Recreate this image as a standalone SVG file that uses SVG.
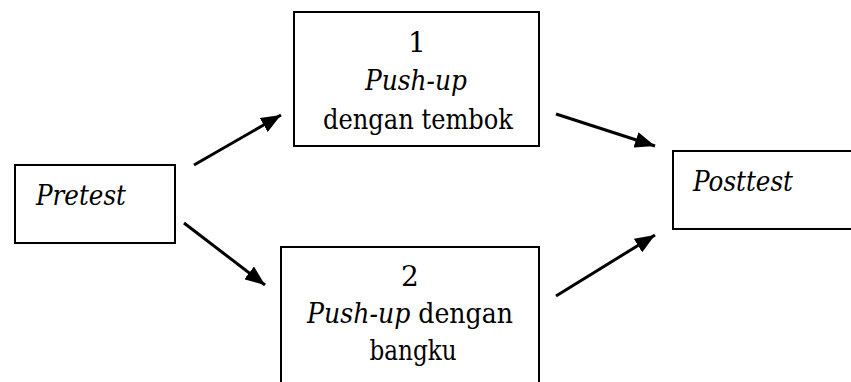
<svg xmlns="http://www.w3.org/2000/svg" width="851" height="382" viewBox="0 0 851 382">
<style>
.box{fill:#fff;stroke:#000;stroke-width:2}
.t{font-family:'DejaVu Serif','Liberation Serif','Times New Roman',serif;font-size:28px;fill:#000}
.i{font-style:italic}
.c{text-anchor:middle}
.conn line{stroke:#000;stroke-width:3}
</style>
<defs>
<marker id="ah" viewBox="0 0 20 16" refX="20" refY="8" markerWidth="20" markerHeight="16" markerUnits="userSpaceOnUse" orient="auto">
<path d="M0,0 L20,8 L0,16 Z" fill="#000"/>
</marker>
</defs>
<rect width="851" height="382" fill="#fff"/>
<g id="pretest">
<rect class="box" x="15" y="165" width="160" height="78"/>
<text class="t i" x="36" y="205" textLength="90" lengthAdjust="spacingAndGlyphs">Pretest</text>
</g>
<g id="node1">
<rect class="box" x="294" y="12" width="245" height="134"/>
<text class="t c" x="417" y="52">1</text>
<text class="t c i" x="416" y="90" textLength="102" lengthAdjust="spacingAndGlyphs">Push-up</text>
<text class="t c" x="418" y="129" textLength="190" lengthAdjust="spacingAndGlyphs">dengan tembok</text>
</g>
<g id="node2">
<rect class="box" x="281" y="247" width="258" height="150"/>
<text class="t c" x="410" y="286">2</text>
<text class="t c" x="410" y="323" textLength="206" lengthAdjust="spacingAndGlyphs"><tspan class="i">Push-up</tspan> dengan</text>
<text class="t c" x="413" y="360" textLength="87" lengthAdjust="spacingAndGlyphs">bangku</text>
</g>
<g id="posttest">
<rect class="box" x="673" y="151" width="190" height="78"/>
<text class="t i" x="693" y="191" textLength="100" lengthAdjust="spacingAndGlyphs">Posttest</text>
</g>
<g class="conn">
<line x1="194" y1="165" x2="281" y2="115" marker-end="url(#ah)"/>
<line x1="184" y1="223" x2="265" y2="285" marker-end="url(#ah)"/>
<line x1="556" y1="114" x2="655" y2="146" marker-end="url(#ah)"/>
<line x1="556" y1="296" x2="655" y2="235" marker-end="url(#ah)"/>
</g>
</svg>
